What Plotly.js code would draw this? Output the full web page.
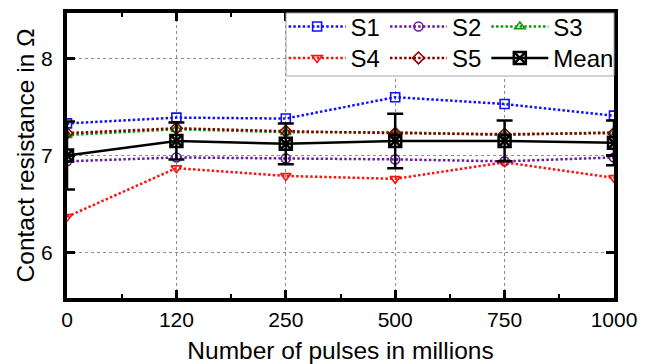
<!DOCTYPE html>
<html>
<head>
<meta charset="utf-8">
<script src="https://cdn.plot.ly/plotly-3.0.1.min.js"></script>
<style>
  html, body { margin: 0; padding: 0; background: #ffffff; }
  #chart { width: 654px; height: 364px; }
</style>
</head>
<body>
<div id="chart"></div>
<script>
// Pulse counts (millions) at which contact resistance was measured
const pulses = ['0', '120', '250', '500', '750', '1000'];

// Contact resistance in ohm for each sample
const s1 = [7.33, 7.39, 7.38, 7.60, 7.53, 7.41];
const s2 = [6.94, 6.98, 6.97, 6.96, 6.94, 6.98];
const s3 = [7.21, 7.27, 7.24, 7.24, 7.21, 7.24];
const s4 = [6.37, 6.87, 6.79, 6.76, 6.93, 6.77];
const s5 = [7.23, 7.28, 7.25, 7.23, 7.22, 7.23];

// Mean over the samples and its spread
const meanVals = [7.00, 7.15, 7.12, 7.15, 7.15, 7.13];
const meanErr = [0.35, 0.19, 0.21, 0.28, 0.21, 0.23];

const yTicks = [6, 7, 8];

const FONT = 'Liberation Sans, Arial, sans-serif';
const xPos = pulses.map((_, i) => i);

function sampleTrace(name, y, color, symbol, legend) {
  return {
    type: 'scatter', mode: 'lines+markers', name: name,
    x: xPos, y: y, legend: legend,
    line: { color: color, width: 2.5, dash: '2.5px,2.2px' },
    marker: { symbol: symbol, size: 9, color: color, line: { color: color, width: 1.6 } }
  };
}

const traces = [
  sampleTrace('S1', s1, '#1010ff', 'square-open', 'legend'),
  sampleTrace('S2', s2, '#6a1ba0', 'circle-open', 'legend'),
  sampleTrace('S3', s3, '#0a9a0a', 'triangle-up-open', 'legend'),
  sampleTrace('S4', s4, '#ff1010', 'triangle-down-open', 'legend2'),
  sampleTrace('S5', s5, '#8a0000', 'diamond-open', 'legend2'),
  {
    type: 'scatter', mode: 'lines+markers', name: 'Mean',
    x: xPos, y: meanVals, legend: 'legend2',
    line: { color: '#000000', width: 2.5 },
    marker: { symbol: 'square-x-open', size: 12, color: '#000000', line: { color: '#000000', width: 2.5 } },
    error_y: { type: 'data', array: meanErr, visible: true, color: '#000000', thickness: 2.5, width: 8 }
  }
];

const legendCommon = {
  orientation: 'h', xanchor: 'left', yanchor: 'top',
  bgcolor: 'rgba(0,0,0,0)', borderwidth: 0,
  font: { family: FONT, size: 24, color: '#000000' },
  itemwidth: 57, tracegroupgap: 0
};

const layout = {
  width: 654, height: 364,
  margin: { l: 67, r: 40, t: 13, b: 66, autoexpand: false },
  paper_bgcolor: '#ffffff', plot_bgcolor: '#ffffff',
  showlegend: true,
  legend: Object.assign({}, legendCommon, { x: 0.396, y: 1.03 }),
  legend2: Object.assign({}, legendCommon, { x: 0.396, y: 0.92 }),
  xaxis: {
    range: [0, 5],
    tickmode: 'array', tickvals: xPos, ticktext: pulses,
    showline: true, linecolor: '#000000', linewidth: 4, mirror: 'allticks',
    ticks: 'inside', ticklen: 8, tickwidth: 3, tickcolor: '#000000',
    minor: { tickmode: 'linear', tick0: 0.5, dtick: 1, ticks: 'inside', ticklen: 4, tickwidth: 2, tickcolor: '#000000', showgrid: false },
    showgrid: true, gridcolor: '#8c8c8c', gridwidth: 1, griddash: '3px,3px',
    zeroline: false,
    tickfont: { family: FONT, size: 21, color: '#000000' },
    title: { text: 'Number of pulses in millions', font: { family: FONT, size: 24.5, color: '#000000' }, standoff: 15 }
  },
  yaxis: {
    range: [5.534, 8.466],
    tickmode: 'array', tickvals: yTicks, ticktext: yTicks.map(String),
    showline: true, linecolor: '#000000', linewidth: 4, mirror: 'allticks',
    ticks: 'inside', ticklen: 8, tickwidth: 3, tickcolor: '#000000',
    showgrid: true, gridcolor: '#8c8c8c', gridwidth: 1, griddash: '3px,3px',
    zeroline: false,
    tickfont: { family: FONT, size: 21, color: '#000000' },
    ticklabelstandoff: 6,
    title: { text: 'Contact resistance in Ω', font: { family: FONT, size: 24.5, color: '#000000' }, standoff: 1 }
  },
  shapes: [{
    type: 'rect', xref: 'paper', yref: 'paper',
    x0: 0.4004, x1: 1, y0: 0.779, y1: 1,
    line: { color: '#a6a6a6', width: 1 }, fillcolor: '#ffffff', layer: 'above'
  }]
};

Plotly.newPlot('chart', traces, layout, { displayModeBar: false, staticPlot: true });
</script>
</body>
</html>
